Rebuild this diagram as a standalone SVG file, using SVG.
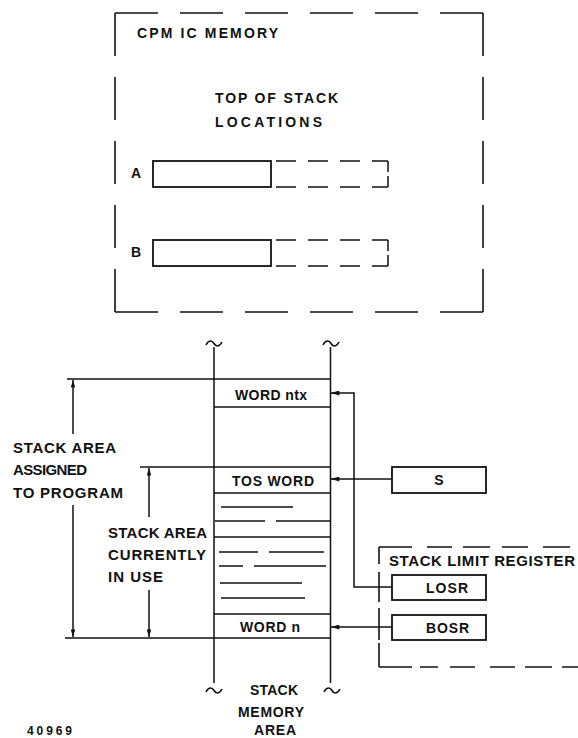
<svg xmlns="http://www.w3.org/2000/svg" width="578" height="738" viewBox="0 0 578 738">
<defs>
<style>
.t{font-family:"Liberation Sans",Arial,sans-serif;font-weight:bold;font-size:14px;fill:#111;}
.tl{font-size:15px;}
.ln{stroke:#111;stroke-width:1.5;fill:none;}
.bx{stroke:#111;stroke-width:1.8;fill:#fff;}
.dh{stroke:#111;stroke-width:1.6;fill:none;stroke-dasharray:43 22;}
.dv{stroke:#111;stroke-width:1.6;fill:none;stroke-dasharray:43 21;}
.ds{stroke:#111;stroke-width:1.5;fill:none;stroke-dasharray:20 12;}
.dl{stroke:#111;stroke-width:1.6;fill:none;}
.tilde{stroke:#111;stroke-width:1.6;fill:none;}
</style>
<marker id="ah" markerUnits="userSpaceOnUse" viewBox="0 0 10 6" refX="10" refY="3" markerWidth="9" markerHeight="5" orient="auto">
<path d="M0,0 L10,3 L0,6 z" fill="#111"/>
</marker>
<marker id="dim" markerUnits="userSpaceOnUse" viewBox="0 0 10 6" refX="10" refY="3" markerWidth="9" markerHeight="4.5" orient="auto">
<path d="M0,0 L10,3 L0,6 z" fill="#111"/>
</marker>
</defs>
<rect width="578" height="738" fill="#fff"/>

<g id="cpm-ic-memory">
<path class="dh" d="M115,13 H483"/>
<path class="dh" d="M115,312 H483"/>
<path class="dv" d="M115,13 V312"/>
<path class="dv" d="M483,13 V312"/>
<text class="t" x="137" y="38" textLength="141" lengthAdjust="spacing">CPM IC MEMORY</text>
<text class="t" x="215" y="103" textLength="123" lengthAdjust="spacing">TOP OF STACK</text>
<text class="t" x="215" y="127" textLength="107" lengthAdjust="spacing">LOCATIONS</text>
</g>

<g id="tos-location-a">
<text class="t" x="131" y="178">A</text>
<rect class="bx" x="153" y="161" width="118" height="26"/>
<path class="ds" d="M276,161 H388"/>
<path class="ds" d="M276,187 H388"/>
<path class="ln" d="M388,161 V172 M388,176 V187"/>
</g>

<g id="tos-location-b">
<text class="t" x="131" y="257">B</text>
<rect class="bx" x="153" y="240" width="118" height="26"/>
<path class="ds" d="M276,240 H388"/>
<path class="ds" d="M276,266 H388"/>
<path class="ln" d="M388,240 V251 M388,255 V266"/>
</g>

<g id="stack-memory-area">
<path class="tilde" d="M206,345 c2.5,-5 6,-5 8,-1.5 s5.5,3.5 8,-1.5"/>
<path class="tilde" d="M323,345 c2.5,-5 6,-5 8,-1.5 s5.5,3.5 8,-1.5"/>
<path class="ln" d="M214,347 V683 M330.5,347 V683"/>
<path class="tilde" d="M206,692 c2.5,-5 6,-5 8,-1.5 s5.5,3.5 8,-1.5"/>
<path class="tilde" d="M324,692 c2.5,-5 6,-5 8,-1.5 s5.5,3.5 8,-1.5"/>
<path class="ln" d="M214,407 H330.5 M214,493 H330.5 M214,537 H330.5 M214,614 H330.5"/>
<path class="ln" d="M221,507 H293 M215,521 H265 M276,521 H330 M219,552 H258 M269,552 H324 M219,566 H243 M254,566 H326 M220,583 H302 M221,598 H305"/>
<text class="t" x="235" y="400" textLength="72" lengthAdjust="spacing">WORD ntx</text>
<text class="t" x="232" y="486" textLength="82" lengthAdjust="spacing">TOS WORD</text>
<text class="t" x="240" y="632" textLength="60" lengthAdjust="spacing">WORD n</text>
<text class="t" x="250" y="695" textLength="48" lengthAdjust="spacing">STACK</text>
<text class="t" x="238" y="717" textLength="66" lengthAdjust="spacing">MEMORY</text>
<text class="t" x="254" y="735" textLength="42" lengthAdjust="spacing">AREA</text>
</g>

<g id="dimension-assigned">
<path class="ln" d="M67,379 H330.5 M65,638 H330.5"/>
<path class="ln" marker-end="url(#dim)" d="M73,434 V380"/>
<path class="ln" marker-end="url(#dim)" d="M73,505 V637"/>
<text class="t tl" x="13" y="453" textLength="103" lengthAdjust="spacing">STACK AREA</text>
<text class="t tl" x="13" y="475" textLength="74" lengthAdjust="spacing">ASSIGNED</text>
<text class="t tl" x="13" y="498" textLength="110" lengthAdjust="spacing">TO PROGRAM</text>
</g>

<g id="dimension-in-use">
<path class="ln" d="M140,467 H330.5"/>
<path class="ln" marker-end="url(#dim)" d="M149,517 V468"/>
<path class="ln" marker-end="url(#dim)" d="M149,590 V637"/>
<text class="t tl" x="108" y="538" textLength="99" lengthAdjust="spacing">STACK AREA</text>
<text class="t tl" x="108" y="560" textLength="98" lengthAdjust="spacing">CURRENTLY</text>
<text class="t tl" x="108" y="582" textLength="55" lengthAdjust="spacing">IN USE</text>
</g>

<g id="s-register">
<rect class="bx" x="392" y="467" width="94" height="26"/>
<text class="t" x="439" y="485" text-anchor="middle">S</text>
</g>

<g id="stack-limit-register">
<path class="dl" d="M379,547 V564 M379,572 V602 M379,608 V640 M379,643 V667"/>
<path class="dl" d="M379,547 H412 M427,547 H452 M463,547 H490 M502,547 H528 M543,547 H570"/>
<path class="dl" d="M379,667 H412 M420,667 H438 M450,667 H475 M490,667 H515 M525,667 H552 M562,667 H578"/>
<text class="t tl" x="389" y="566" textLength="186" lengthAdjust="spacing">STACK LIMIT REGISTER</text>
</g>

<g id="losr">
<rect class="bx" x="392" y="575" width="94" height="25"/>
<text class="t" x="426" y="593" textLength="42" lengthAdjust="spacing">LOSR</text>
</g>

<g id="bosr">
<rect class="bx" x="392" y="615" width="94" height="25"/>
<text class="t" x="426" y="633" textLength="43" lengthAdjust="spacing">BOSR</text>
</g>

<g id="connectors">
<path class="ln" marker-end="url(#ah)" d="M392,587 H354 V393 H331"/>
<path class="ln" marker-end="url(#ah)" d="M392,479 H331"/>
<path class="ln" marker-end="url(#ah)" d="M392,627 H331"/>
</g>

<text class="t" x="27" y="735" style="font-size:12px" textLength="45" lengthAdjust="spacing">40969</text>
</svg>
